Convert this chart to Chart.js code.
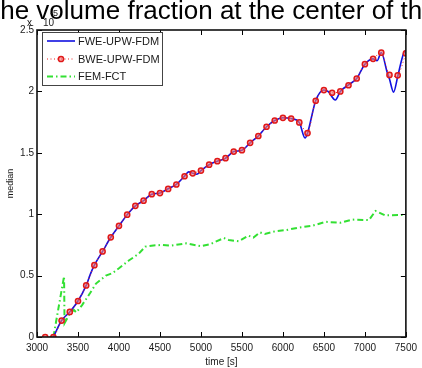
<!DOCTYPE html>
<html>
<head>
<meta charset="utf-8">
<script src="https://cdn.jsdelivr.net/npm/chart.js@4"></script>
<style>
  html, body { margin: 0; padding: 0; background: #fff; }
  #wrap { width: 422px; height: 368px; position: relative; }
</style>
</head>
<body>
<div id="wrap"><canvas id="c" width="422" height="368"></canvas></div>
<script>
// ---- data (values in units of 1e-5) ----
const titleText = "the volume fraction at the center of the";
const seriesNames = ["FWE-UPW-FDM", "BWE-UPW-FDM", "FEM-FCT"];
const xTicks = [3000, 3500, 4000, 4500, 5000, 5500, 6000, 6500, 7000, 7500];
const yTicks = [0, 0.5, 1, 1.5, 2, 2.5];

const fweT = [3200, 3300, 3400, 3500, 3600, 3650, 3700, 3800, 3900, 4000, 4100, 4200, 4300, 4400, 4500, 4600, 4700, 4800, 4850, 4900, 4950, 5000, 5100, 5200, 5300, 5400, 5500, 5600, 5700, 5800, 5900, 6000, 6100, 6200, 6270, 6300, 6400, 6500, 6550, 6640, 6700, 6800, 6900, 7000, 7100, 7150, 7200, 7270, 7300, 7350, 7400, 7450, 7490, 7500];
const fweV = [0, 0.134, 0.204, 0.293, 0.42, 0.51, 0.585, 0.697, 0.812, 0.905, 0.996, 1.068, 1.11, 1.163, 1.173, 1.207, 1.243, 1.31, 1.345, 1.333, 1.325, 1.355, 1.403, 1.432, 1.456, 1.51, 1.521, 1.581, 1.637, 1.712, 1.763, 1.786, 1.779, 1.747, 1.62, 1.66, 1.924, 2.011, 2.0, 1.93, 2.0, 2.053, 2.105, 2.222, 2.265, 2.25, 2.317, 2.16, 2.10, 1.994, 2.12, 2.26, 2.33, 2.31];

const bweT = [3100, 3200, 3300, 3400, 3500, 3600, 3700, 3800, 3900, 4000, 4100, 4200, 4300, 4400, 4500, 4600, 4700, 4800, 4900, 5000, 5100, 5200, 5300, 5400, 5500, 5600, 5700, 5800, 5900, 6000, 6100, 6200, 6300, 6400, 6500, 6600, 6700, 6800, 6900, 7000, 7100, 7200, 7300, 7400, 7500];
const bweV = [0, 0, 0.134, 0.204, 0.293, 0.42, 0.585, 0.697, 0.812, 0.905, 0.996, 1.068, 1.11, 1.163, 1.172, 1.206, 1.242, 1.309, 1.333, 1.355, 1.403, 1.432, 1.456, 1.51, 1.521, 1.581, 1.637, 1.712, 1.763, 1.785, 1.779, 1.747, 1.661, 1.924, 2.011, 1.989, 2.0, 2.05, 2.105, 2.222, 2.265, 2.315, 2.134, 2.131, 2.31];

const fctT = [3200, 3330, 3336, 3400, 3450, 3480, 3550, 3650, 3720, 3840, 3920, 4000, 4120, 4240, 4320, 4420, 4520, 4640, 4820, 5000, 5120, 5280, 5340, 5460, 5580, 5640, 5720, 5780, 5900, 6040, 6200, 6360, 6520, 6700, 6850, 7050, 7130, 7250, 7450, 7500];
const fctV = [0, 0.494, 0.113, 0.19, 0.22, 0.2, 0.26, 0.36, 0.435, 0.5, 0.52, 0.56, 0.623, 0.677, 0.736, 0.745, 0.75, 0.744, 0.763, 0.739, 0.758, 0.806, 0.79, 0.779, 0.825, 0.81, 0.852, 0.839, 0.86, 0.871, 0.892, 0.906, 0.938, 0.93, 0.956, 0.952, 1.027, 0.99, 0.994, 0.998];

const toXY = (t, v) => t.map((x, i) => ({ x: x, y: v[i] }));

const FONT = '"Liberation Sans", Arial, sans-serif';
const TXT = '#1a1a1a';

const decorPlugin = {
  id: 'decor',
  afterDatasetsDraw(chart) {
    const ctx = chart.ctx;
    const a = chart.chartArea;
    const xs = chart.scales.x, ys = chart.scales.y;
    ctx.save();
    // ticks pointing inward
    ctx.strokeStyle = '#000';
    ctx.lineWidth = 1;
    ctx.beginPath();
    xTicks.forEach(v => {
      const p = Math.round(xs.getPixelForValue(v)) + 0.5;
      ctx.moveTo(p, a.bottom); ctx.lineTo(p, a.bottom - 5);
      ctx.moveTo(p, a.top); ctx.lineTo(p, a.top + 5);
    });
    yTicks.forEach(v => {
      const p = Math.round(ys.getPixelForValue(v)) + 0.5;
      ctx.moveTo(a.left, p); ctx.lineTo(a.left + 5, p);
      ctx.moveTo(a.right, p); ctx.lineTo(a.right - 5, p);
    });
    ctx.stroke();
    // frame
    ctx.lineWidth = 1.6;
    ctx.strokeStyle = '#111';
    ctx.strokeRect(a.left, a.top, a.right - a.left, a.bottom - a.top);

    // legend box
    const lx = 42, ly = 32, lw = 120, lh = 53;
    ctx.fillStyle = '#fff';
    ctx.fillRect(lx, ly, lw, lh);
    ctx.lineWidth = 1;
    ctx.strokeStyle = '#444';
    ctx.strokeRect(lx + 0.5, ly + 0.5, lw, lh);
    const rows = [41, 59, 76.5];
    chart.data.datasets.forEach((ds, i) => {
      const y = rows[i];
      ctx.save();
      ctx.strokeStyle = ds.borderColor;
      ctx.lineWidth = ds.borderWidth;
      ctx.setLineDash(ds.borderDash || []);
      ctx.beginPath();
      ctx.moveTo(47, y); ctx.lineTo(75, y);
      ctx.stroke();
      ctx.setLineDash([]);
      if (ds.pointRadius > 0) {
        ctx.beginPath();
        ctx.arc(61, y, ds.pointRadius, 0, Math.PI * 2);
        ctx.fillStyle = ds.pointBackgroundColor;
        ctx.fill();
        ctx.lineWidth = ds.pointBorderWidth;
        ctx.strokeStyle = ds.pointBorderColor;
        ctx.stroke();
      }
      ctx.restore();
      ctx.fillStyle = TXT;
      ctx.font = '11px ' + FONT;
      ctx.textBaseline = 'middle';
      ctx.textAlign = 'left';
      ctx.fillText(ds.label, 78, y + 0.5);
    });

    // title (clipped by the canvas, as in the reference)
    ctx.fillStyle = '#000';
    ctx.textAlign = 'left';
    ctx.textBaseline = 'alphabetic';
    ctx.font = '26px ' + FONT;
    ctx.fillText(titleText, -7, 19);

    // exponent label
    ctx.fillStyle = TXT;
    ctx.font = '10px ' + FONT;
    ctx.fillText('x', 27, 26);
    ctx.fillText('10', 43, 26);
    ctx.font = '9px ' + FONT;
    ctx.fillText('-5', 50, 16);
    ctx.restore();
  }
};

new Chart(document.getElementById('c'), {
  type: 'line',
  data: {
    datasets: [
      {
        label: seriesNames[0],
        data: toXY(fweT, fweV),
        borderColor: '#1010e0',
        borderWidth: 1.6,
        pointRadius: 0,
        cubicInterpolationMode: 'monotone',
        order: 1
      },
      {
        label: seriesNames[1],
        data: toXY(bweT, bweV),
        borderColor: '#ee2020',
        borderWidth: 1,
        borderDash: [1, 2.5],
        pointRadius: 2.6,
        pointBorderWidth: 1.5,
        pointBorderColor: '#e01818',
        pointBackgroundColor: 'rgba(240,120,120,0.6)',
        tension: 0.3,
        order: 0
      },
      {
        label: seriesNames[2],
        data: toXY(fctT, fctV),
        borderColor: '#33e033',
        borderWidth: 2,
        borderDash: [6, 3, 1.5, 3],
        pointRadius: 0,
        tension: 0,
        order: 2
      }
    ]
  },
  options: {
    responsive: false,
    animation: false,
    events: [],
    layout: { padding: { left: 0, right: 11, top: 30, bottom: 0 } },
    plugins: { legend: { display: false }, title: { display: false }, tooltip: { enabled: false } },
    scales: {
      x: {
        type: 'linear',
        min: 3000, max: 7500,
        afterBuildTicks: (s) => { s.ticks = xTicks.map(v => ({ value: v })); },
        afterFit: (s) => { s.height = 31; },
        grid: { display: false, drawTicks: false },
        border: { display: false },
        ticks: {
          padding: 5,
          color: TXT,
          font: { family: FONT, size: 10 },
          maxRotation: 0,
          autoSkip: false,
          callback: (v) => String(v)
        },
        title: { display: true, text: 'time [s]', color: TXT, font: { family: FONT, size: 10 }, padding: { top: 0, bottom: 0 } }
      },
      y: {
        type: 'linear',
        min: 0, max: 2.5,
        afterBuildTicks: (s) => { s.ticks = yTicks.map(v => ({ value: v })); },
        afterFit: (s) => { s.width = 37; },
        grid: { display: false, drawTicks: false },
        border: { display: false },
        ticks: {
          padding: 3,
          color: TXT,
          font: { family: FONT, size: 10 },
          callback: (v) => String(v)
        },
        title: { display: true, text: 'median', color: TXT, font: { family: FONT, size: 9 }, padding: { top: 5, bottom: 0 } }
      }
    }
  },
  plugins: [decorPlugin]
});
</script>
</body>
</html>
